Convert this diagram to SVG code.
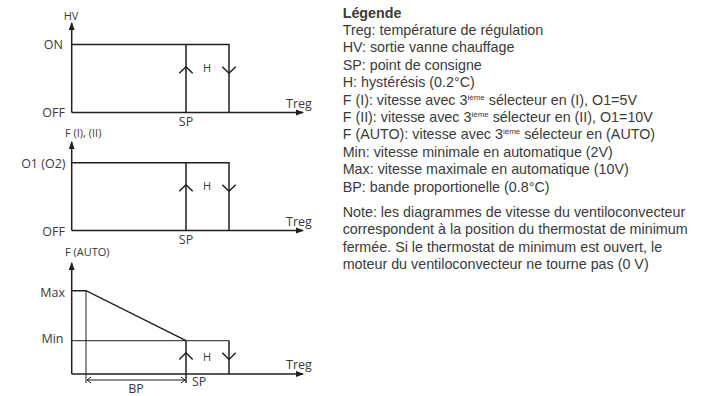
<svg xmlns="http://www.w3.org/2000/svg" width="703" height="396" viewBox="0 0 703 396">
<style>
.ln{stroke:#231f20;stroke-width:1.5;fill:none}
.th{stroke:#231f20;stroke-width:1;fill:none}
.lbl{font-family:"Open Sans","DejaVu Sans",sans-serif;font-size:12.5px;fill:#3a3a3a}
.sm{font-size:11px}
.lg{font-family:"Liberation Sans",Arial,sans-serif;font-size:14.3px;fill:#3a3a3a}
.sup{font-size:8px}
</style>
<defs>
<marker id="ah" viewBox="0 0 8 8" refX="7" refY="4" markerWidth="8" markerHeight="8" markerUnits="userSpaceOnUse" orient="auto"><path d="M0,1 L8,4 L0,7 z" fill="#231f20"/></marker>
</defs>

<g id="chart-hv">
<path class="ln" d="M71.7,112.5 V23" marker-end="url(#ah)"/>
<path class="ln" d="M71.7,112.5 H303" marker-end="url(#ah)"/>
<path class="ln" d="M71.7,44.5 H229 V112.5 M186,44.5 V112.5"/>
<path class="ln" d="M179.3,73.3 L186,66.7 L192.7,73.3 M222.3,66.7 L229,73.3 L235.7,66.7"/>
<text class="lbl sm" x="71" y="20" text-anchor="middle">HV</text>
<text class="lbl" x="63" y="49" text-anchor="end">ON</text>
<text class="lbl" x="65" y="117" text-anchor="end">OFF</text>
<text class="lbl" x="286" y="108">Treg</text>
<text class="lbl" x="186" y="126" text-anchor="middle">SP</text>
<text class="lbl sm" x="203" y="71.5">H</text>
</g>

<g id="chart-f12">
<path class="ln" d="M71.7,230.5 V142" marker-end="url(#ah)"/>
<path class="ln" d="M71.7,230.5 H303" marker-end="url(#ah)"/>
<path class="ln" d="M71.7,162.7 H229 V230.5 M186,162.7 V230.5"/>
<path class="ln" d="M179.3,191.3 L186,184.7 L192.7,191.3 M222.3,184.7 L229,191.3 L235.7,184.7"/>
<text class="lbl sm" x="65" y="137">F (I), (II)</text>
<text class="lbl" x="65.5" y="168" text-anchor="end">O1 (O2)</text>
<text class="lbl" x="65" y="235.5" text-anchor="end">OFF</text>
<text class="lbl" x="286" y="226">Treg</text>
<text class="lbl" x="186" y="244" text-anchor="middle">SP</text>
<text class="lbl sm" x="203" y="189.5">H</text>
</g>

<g id="chart-auto">
<path class="ln" d="M71.7,374 V263" marker-end="url(#ah)"/>
<path class="ln" d="M71.7,374 H303" marker-end="url(#ah)"/>
<path class="ln" d="M71.7,290.7 H86 L186,340.7"/>
<path class="th" d="M71.7,340.7 H229"/>
<path class="ln" d="M229,340.7 V374 M186,340.7 V383"/>
<path class="th" d="M86,290.7 V383"/>
<path class="th" d="M87,380 H185" stroke-width="0.9"/>
<path class="th" d="M91,377 L87,380 L91,383 M181,377 L185,380 L181,383" stroke-width="0.9"/>
<path class="ln" d="M179.3,359.5 L186,352.8 L192.7,359.5 M222.3,352.8 L229,359.5 L235.7,352.8"/>
<text class="lbl sm" x="65" y="256">F (AUTO)</text>
<text class="lbl" x="65" y="297" text-anchor="end">Max</text>
<text class="lbl" x="63.5" y="343" text-anchor="end">Min</text>
<text class="lbl" x="286" y="369">Treg</text>
<text class="lbl" x="192" y="386">SP</text>
<text class="lbl" x="136" y="393" text-anchor="middle" font-size="12">BP</text>
<text class="lbl sm" x="203" y="361">H</text>
</g>

<g id="legend" class="lg">
<text x="342.7" y="17.5" font-weight="bold">Légende</text>
<text x="342.7" y="34.9">Treg: température de régulation</text>
<text x="342.7" y="52.3">HV: sortie vanne chauffage</text>
<text x="342.7" y="69.7">SP: point de consigne</text>
<text x="342.7" y="87.1">H: hystérésis (0.2°C)</text>
<text x="342.7" y="104.5">F (I): vitesse avec 3<tspan class="sup" dy="-5">ième</tspan><tspan dy="5"> sélecteur en (I), O1=5V</tspan></text>
<text x="342.7" y="121.9">F (II): vitesse avec 3<tspan class="sup" dy="-5">ième</tspan><tspan dy="5"> sélecteur en (II), O1=10V</tspan></text>
<text x="342.7" y="139.3">F (AUTO): vitesse avec 3<tspan class="sup" dy="-5">ième</tspan><tspan dy="5"> sélecteur en (AUTO)</tspan></text>
<text x="342.7" y="156.7">Min: vitesse minimale en automatique (2V)</text>
<text x="342.7" y="174.1">Max: vitesse maximale en automatique (10V)</text>
<text x="342.7" y="191.5">BP: bande proportionelle (0.8°C)</text>
<text x="342.7" y="216.7">Note: les diagrammes de vitesse du ventiloconvecteur</text>
<text x="342.7" y="234.1">correspondent à la position du thermostat de minimum</text>
<text x="342.7" y="251.5">fermée. Si le thermostat de minimum est ouvert, le</text>
<text x="342.7" y="268.9">moteur du ventiloconvecteur ne tourne pas (0 V)</text>
</g>
</svg>
